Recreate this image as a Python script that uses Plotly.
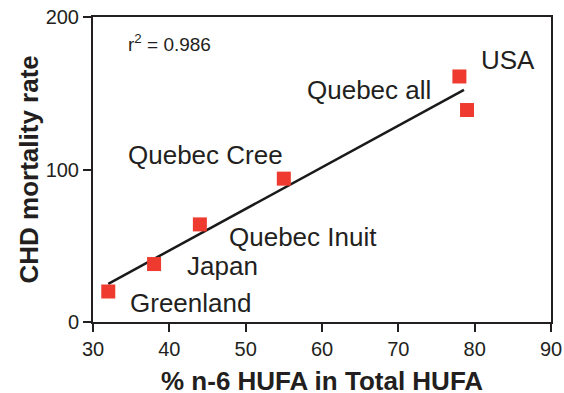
import numpy as np
import plotly.graph_objects as go

# Data
countries = ["Greenland", "Japan", "Quebec Inuit", "Quebec Cree", "Quebec all", "USA"]
n6_hufa_pct = [32, 38, 44, 55, 78, 79]
chd_mortality = [20, 38, 64, 94, 161, 139]
r_squared_label = "r<sup>2</sup> = 0.986"
x_ticks = [30, 40, 50, 60, 70, 80, 90]
y_ticks = [0, 100, 200]

# label positions (data coords, left-anchored)
label_x = [34.6, 42.1, 47.6, 34.3, 57.8, 80.6]
label_y = [12.5, 37, 55.5, 109.5, 152, 172]

# least-squares trend line over the data range
slope, intercept = np.polyfit(n6_hufa_pct, chd_mortality, 1)
fit_x = np.array([min(n6_hufa_pct), 78.6])
fit_y = slope * fit_x + intercept

FONT = "Liberation Sans, Arial, Helvetica, sans-serif"
TXT = "#231f20"

fig = go.Figure()
fig.add_trace(go.Scatter(x=fit_x, y=fit_y, mode="lines",
                         line=dict(color="#1a1a1a", width=2.5),
                         showlegend=False, hoverinfo="skip"))
fig.add_trace(go.Scatter(x=n6_hufa_pct, y=chd_mortality, mode="markers",
                         text=countries,
                         marker=dict(symbol="square", size=14, color="#ee3a2f",
                                     line=dict(width=0)),
                         showlegend=False))

for name, lx, ly in zip(countries, label_x, label_y):
    fig.add_annotation(x=lx, y=ly, text=name, showarrow=False,
                       xanchor="left", yanchor="middle",
                       font=dict(family=FONT, size=26, color=TXT))

fig.add_annotation(x=34.3, y=183, text=r_squared_label, showarrow=False,
                   xanchor="left", yanchor="middle",
                   font=dict(family=FONT, size=19, color=TXT))

# axis titles
fig.add_annotation(xref="paper", yref="paper", x=0.5, y=0, yshift=-59,
                   text="<b>% n-6 HUFA in Total HUFA</b>", showarrow=False,
                   xanchor="center", yanchor="middle",
                   font=dict(family=FONT, size=26, color=TXT))
fig.add_annotation(xref="paper", yref="paper", x=0, y=0.5, xshift=-65,
                   text="<b>CHD mortality rate</b>", showarrow=False, textangle=-90,
                   xanchor="center", yanchor="middle",
                   font=dict(family=FONT, size=26, color=TXT))

axis_common = dict(showgrid=False, zeroline=False, showline=True,
                   linecolor="#231f20", linewidth=2, mirror=True,
                   ticks="outside", ticklen=8, tickwidth=1.5, tickcolor="#231f20",
                   tickfont=dict(family=FONT, size=20, color=TXT))

fig.update_layout(
    width=564, height=393,
    margin=dict(l=93, r=13, t=17, b=71, autoexpand=False),
    paper_bgcolor="white", plot_bgcolor="white",
    xaxis=dict(range=[30, 90], tickvals=x_ticks, **axis_common),
    yaxis=dict(range=[0, 200], tickvals=y_ticks, **axis_common),
)

fig.write_html("out.html",
               config={"displayModeBar": False},
               post_script="document.body.style.margin='0';document.body.style.overflow='hidden';")
